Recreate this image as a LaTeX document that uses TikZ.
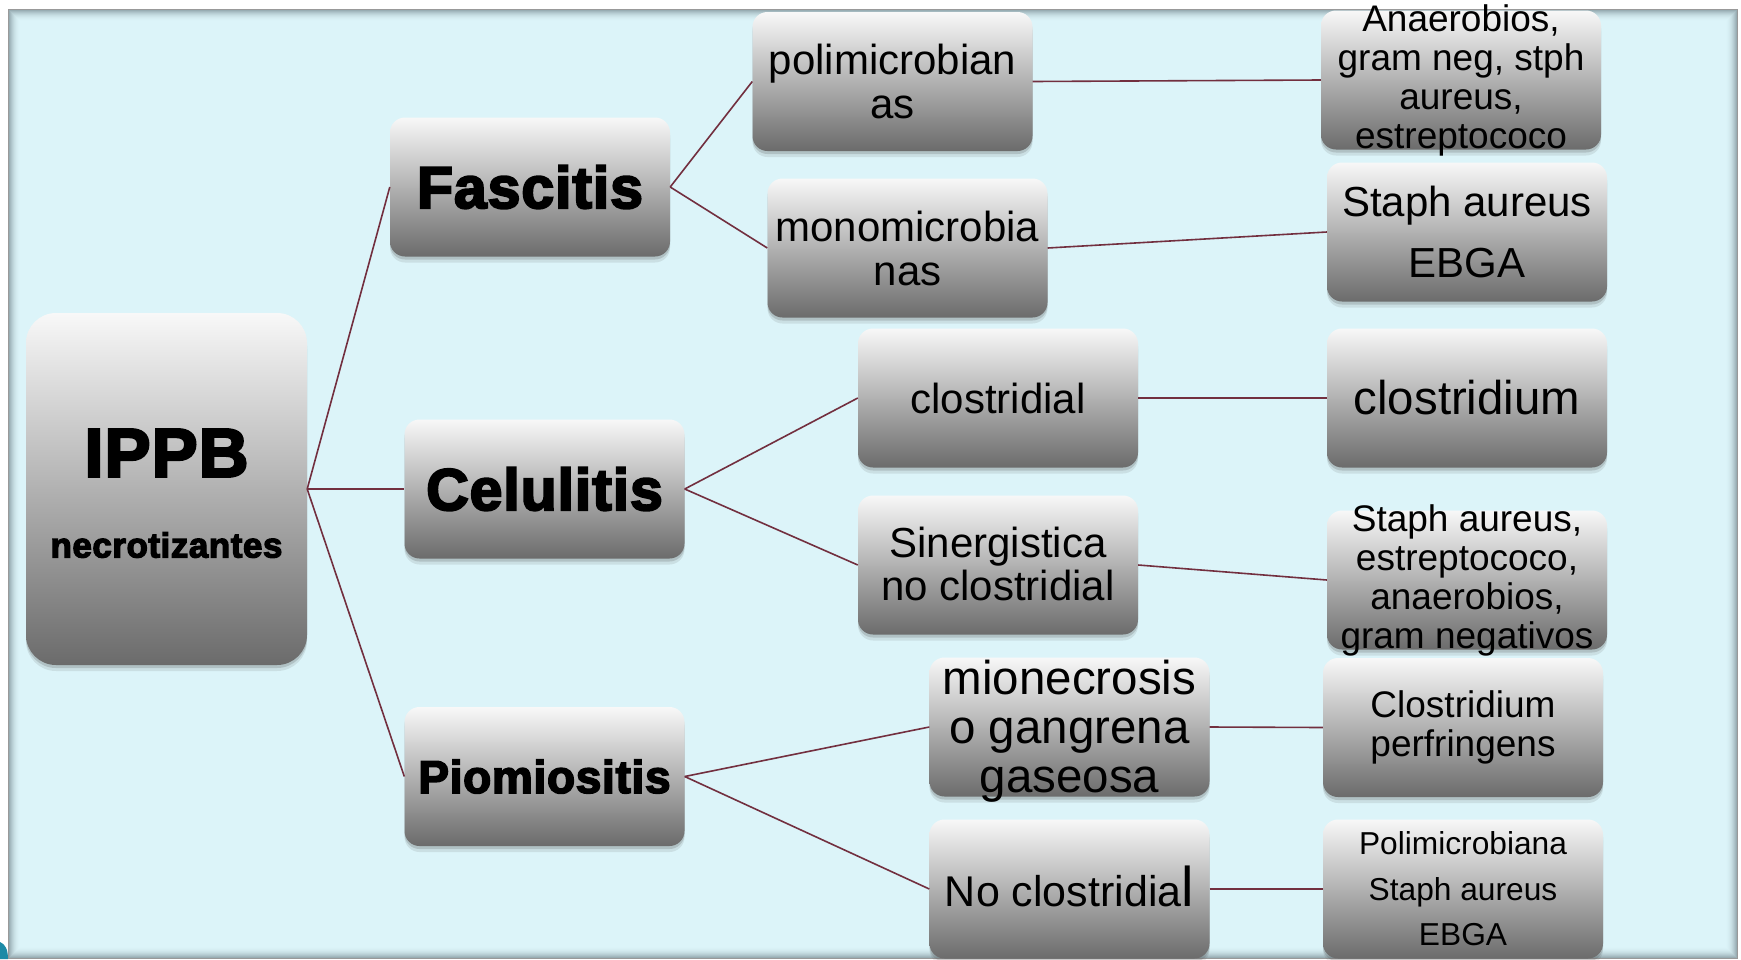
\documentclass[tikz,border=0pt]{standalone}
\usepackage{fontspec}
\setmainfont{Liberation Sans}
\newfontfamily\heavy[FakeBold=3.5,LetterSpace=1.5]{Liberation Sans Bold}
\usetikzlibrary{shadows}
\definecolor{bgc}{HTML}{DCF4F9}
\definecolor{linec}{HTML}{722F3F}
\definecolor{frameshade}{HTML}{56686F}
\definecolor{topg}{HTML}{F8F8F8}
\definecolor{botg}{HTML}{6B6B6B}
\definecolor{tealc}{HTML}{1C8AA6}
\begin{document}
\begin{tikzpicture}[x=1pt,y=-1pt,
  box/.style={rectangle, rounded corners=15pt, minimum width=280pt, minimum height=139pt, inner sep=0pt,
    top color=topg, bottom color=botg, draw=none,
    drop shadow={shadow xshift=0pt, shadow yshift=-6pt, opacity=0.12, fill=black!70},
    drop shadow={shadow xshift=0pt, shadow yshift=-3pt, opacity=0.2, fill=black!70}},
  txt/.style={align=center, inner sep=0pt, text=black},
  conn/.style={draw=linec, line width=1.6pt},
]
\useasboundingbox (0,0) rectangle (1741,959);
\clip (0,0) rectangle (1741,959);
% background frame
\fill[white] (0,0) rectangle (1741,959);
\fill[bgc] (8,9) rectangle (1738,959);
\foreach \i in {0,...,11}{
  \pgfmathsetmacro\op{0.6*(1-\i/12)*(1-\i/12)}
  \draw[frameshade, line width=1pt, opacity=\op] (8.5+\i,9.5+\i) rectangle (1737.5-\i,958.5-\i);
}
\draw[gray!80, line width=1pt] (8.5,9.5) rectangle (1737.5,958.5);
\fill[tealc] (0,942) .. controls (5,944) and (8,949) .. (8,959) -- (0,959) -- cycle;

% root
\node[box, rounded corners=30pt, minimum width=281pt, minimum height=352pt] (ippb) at (166.5,489) {};
\node[txt, font=\heavy\fontsize{69}{69}\selectfont] (ippbt) at (166.5,453) {IPPB};
\node[txt, font=\heavy\fontsize{35}{35}\selectfont] (necr) at (166.5,545) {necrotizantes};

% level 1
\node[box] (fas) at (530,187) {};
\node[txt, font=\heavy\fontsize{59}{59}\selectfont] at (fas.center) {Fascitis};
\node[box] (cel) at (544.5,489) {};
\node[txt, font=\heavy\fontsize{59}{59}\selectfont] at (cel.center) {Celulitis};
\node[box] (pio) at (544.5,776.5) {};
\node[txt, font=\heavy\fontsize{46}{46}\selectfont] at (pio.center) {Piomiositis};

% level 2
\node[box] (poli) at (892.5,81.5) {};
\node[txt, font=\fontsize{42}{44}\selectfont] at (poli.center) {polimicrobian\\as};
\node[box] (mono) at (907.5,248) {};
\node[txt, font=\fontsize{42}{44}\selectfont] at (mono.center) {monomicrobia\\nas};
\node[box] (clos) at (998,398) {};
\node[txt, font=\fontsize{42}{44}\selectfont] at (clos.center) {clostridial};
\node[box] (sin) at (998,565) {};
\node[txt, font=\fontsize{42}{43}\selectfont] at ([yshift=1pt]sin.center) {Sinergistica\\no clostridial};
\node[box] (mio) at (1069.5,727) {};
\node[txt, font=\fontsize{47.5}{49}\selectfont] at ([yshift=-4pt]mio.center) {mionecrosis\\o gangrena\\gaseosa};
\node[box] (noc) at (1069.5,889) {};
\node[txt, font=\fontsize{43}{44}\selectfont] at ([yshift=3pt]noc.center) {No clostridia{\fontsize{56}{56}\selectfont l}};

% level 3
\node[box] (ana) at (1461,80) {};
\node[txt, font=\fontsize{37}{39}\selectfont] at (ana.center) {Anaerobios,\\gram neg, stph\\aureus,\\estreptococo};
\node[box] (sae) at (1467,232) {};
\node[txt, font=\fontsize{42}{61}\selectfont] at (sae.center) {Staph aureus\\EBGA};
\node[box] (clm) at (1467,398) {};
\node[txt, font=\fontsize{47.4}{49}\selectfont] at (clm.center) {clostridium};
\node[box] (sea) at (1467,580) {};
\node[txt, font=\fontsize{37}{39}\selectfont] at (sea.center) {Staph aureus,\\estreptococo,\\anaerobios,\\gram negativos};
\node[box] (cp) at (1463,727.5) {};
\node[txt, font=\fontsize{37}{39}\selectfont] at (cp.center) {Clostridium\\perfringens};
\node[box] (pol) at (1463,889) {};
\node[txt, font=\fontsize{31.7}{45.5}\selectfont] at (pol.center) {Polimicrobiana\\Staph aureus\\EBGA};

% connectors
\draw[conn] (ippb.east) -- (fas.west);
\draw[conn] (ippb.east) -- (cel.west);
\draw[conn] (ippb.east) -- (pio.west);
\draw[conn] (fas.east) -- (poli.west);
\draw[conn] (fas.east) -- (mono.west);
\draw[conn] (cel.east) -- (clos.west);
\draw[conn] (cel.east) -- (sin.west);
\draw[conn] (pio.east) -- (mio.west);
\draw[conn] (pio.east) -- (noc.west);
\draw[conn] (poli.east) -- (ana.west);
\draw[conn] (mono.east) -- (sae.west);
\draw[conn] (clos.east) -- (clm.west);
\draw[conn] (sin.east) -- (sea.west);
\draw[conn] (mio.east) -- (cp.west);
\draw[conn] (noc.east) -- (pol.west);
\end{tikzpicture}
\end{document}
